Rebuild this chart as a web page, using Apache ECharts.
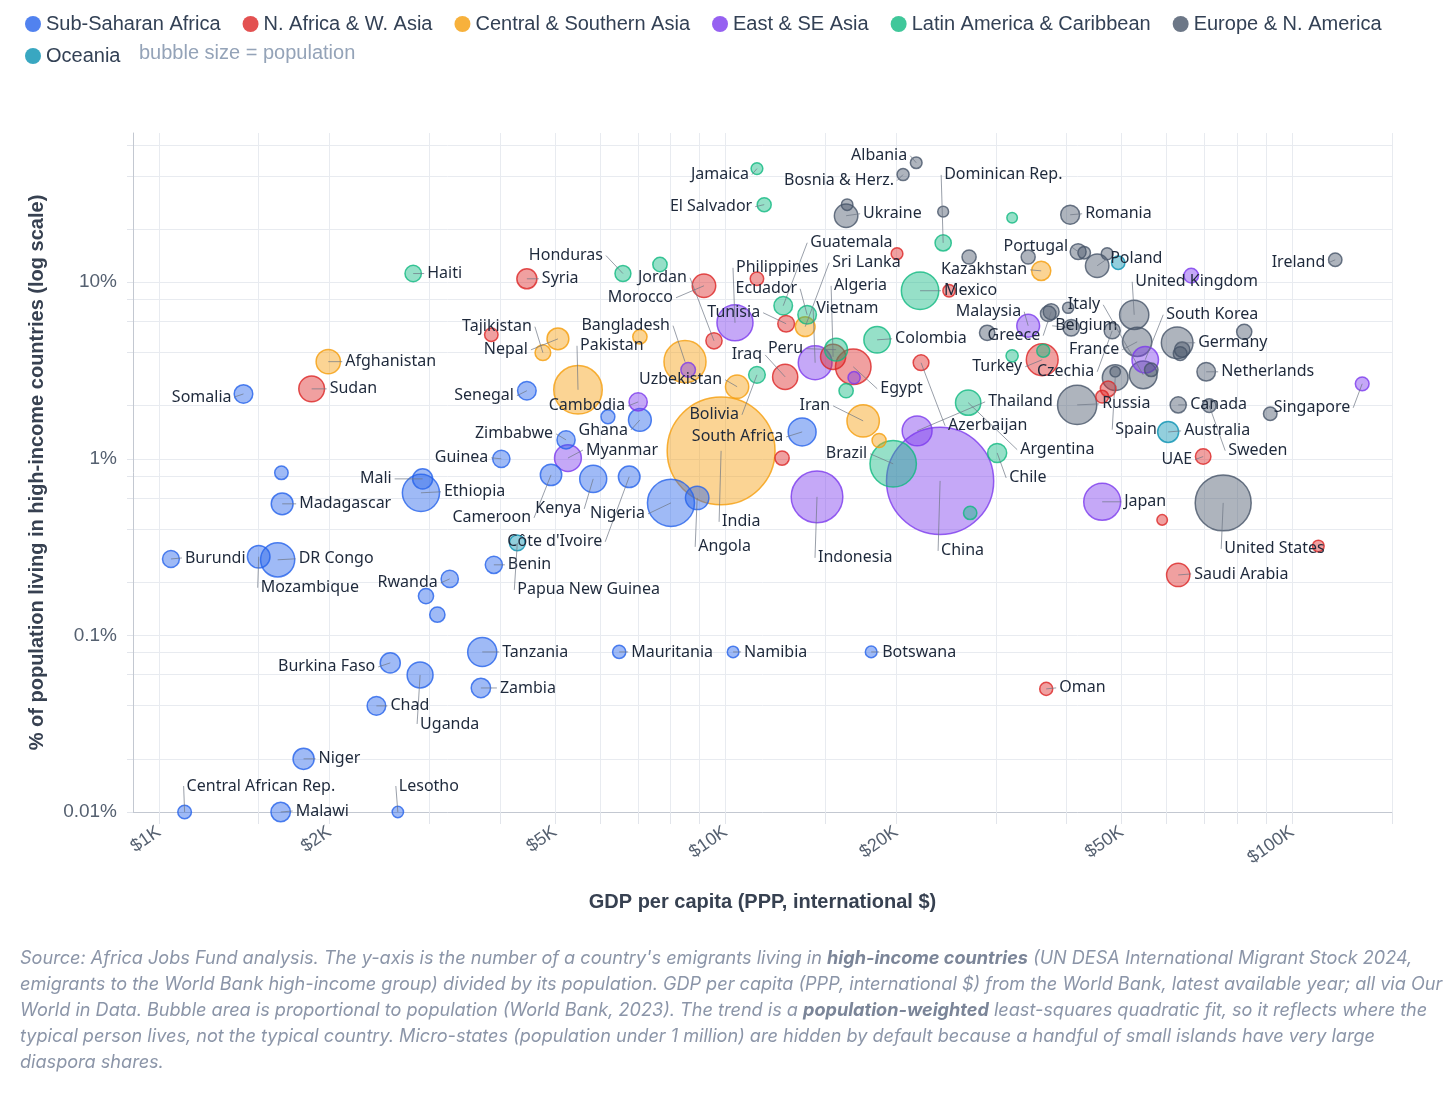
<!DOCTYPE html>
<html>
<head>
<meta charset="utf-8">
<script src="https://cdn.jsdelivr.net/npm/echarts@6/dist/echarts.min.js"></script>
<style>
  body { margin: 0; background: #fff; }
  #chart { position: absolute; left: 0; top: 0; width: 1456px; height: 1096px; }
  #note {
    position: absolute; left: 20px; top: 944px;
    font: italic 18.1px Inter, "Liberation Sans", sans-serif;
    line-height: 26px; color: #8b95a8; white-space: nowrap;
  }
  #note b { color: #7b8598; }
</style>
</head>
<body>
<div id="chart"></div>
<div id="note">Source: Africa Jobs Fund analysis. The y-axis is the number of a country's emigrants living in <b>high-income countries</b> (UN DESA International Migrant Stock 2024,<br>emigrants to the World Bank high-income group) divided by its population. GDP per capita (PPP, international $) from the World Bank, latest available year; all via Our<br>World in Data. Bubble area is proportional to population (World Bank, 2023). The trend is a <b>population-weighted</b> least-squares quadratic fit, so it reflects where the<br>typical person lives, not the typical country. Micro-states (population under 1 million) are hidden by default because a handful of small islands have very large<br>diaspora shares.</div>
<script>
// [country, GDP per capita PPP $, % of population in high-income countries, population (millions)]
const subSaharan = [
  ['Somalia', 1410, 2.33, 18], ['Burundi', 1050, 0.271, 13], ['Mozambique', 1500, 0.279, 33],
  ['DR Congo', 1620, 0.268, 102], ['Madagascar', 1650, 0.556, 30], ['Liberia', 1645, 0.833, 5.4],
  ['Mali', 2920, 0.770, 23], ['Ethiopia', 2900, 0.642, 126], ['Zimbabwe', 5230, 1.28, 16.7],
  ['Ghana', 7060, 1.66, 34], ['Congo', 6200, 1.73, 6.1], ['Senegal', 4460, 2.43, 18],
  ['Guinea', 4020, 1.00, 14], ['Cameroon', 4920, 0.811, 28], ['Kenya', 5840, 0.770, 55],
  ["Côte d'Ivoire", 6760, 0.791, 29], ['Nigeria', 8010, 0.563, 223], ['Angola', 8910, 0.601, 37],
  ['South Africa', 13650, 1.42, 60], ['Benin', 3900, 0.251, 13.7], ['Rwanda', 3260, 0.209, 14],
  ['Sierra Leone', 2960, 0.167, 8.8], ['Togo', 3100, 0.131, 9], ['Tanzania', 3720, 0.0806, 67],
  ['Mauritania', 6490, 0.0806, 4.9], ['Namibia', 10310, 0.0806, 2.6], ['Botswana', 18070, 0.0806, 2.7],
  ['Burkina Faso', 2560, 0.0699, 23], ['Uganda', 2890, 0.0597, 49], ['Zambia', 3700, 0.0504, 20.6],
  ['Chad', 2420, 0.0399, 18], ['Niger', 1800, 0.0200, 27], ['Central African Rep.', 1110, 0.01, 5.7],
  ['Malawi', 1640, 0.01, 21], ['Lesotho', 2640, 0.01, 2.3]
];
const nAfricaWAsia = [
  ['Sudan', 1860, 2.49, 48], ['Syria', 4460, 10.46, 23], ['Palestine', 3860, 5.04, 5.4],
  ['Morocco', 9160, 9.55, 37], ['Jordan', 9540, 4.66, 11.3], ['Lebanon', 11360, 10.46, 5.4],
  ['Tunisia', 12790, 5.82, 12.5], ['Iraq', 12740, 2.91, 45], ['Algeria', 15480, 3.78, 45],
  ['Egypt', 16800, 3.32, 113], ['Libya', 12580, 1.01, 6.9], ['Azerbaijan', 22130, 3.50, 10.1],
  ['Armenia', 20070, 14.5, 2.8], ['Georgia', 24800, 8.95, 3.7], ['Turkey', 36210, 3.64, 85],
  ['Kuwait', 46200, 2.25, 4.3], ['Israel', 47330, 2.49, 9.8], ['UAE', 69640, 1.03, 9.5],
  ['Bahrain', 58950, 0.451, 1.5], ['Qatar', 111200, 0.321, 2.7], ['Saudi Arabia', 62920, 0.220, 36],
  ['Oman', 36800, 0.0498, 4.6]
];
const centralSouthAsia = [
  ['Afghanistan', 1990, 3.55, 41], ['Tajikistan', 4760, 3.99, 10], ['Nepal', 5060, 4.78, 30],
  ['Pakistan', 5490, 2.46, 240], ['Kyrgyzstan', 7060, 4.91, 7], ['Bangladesh', 8480, 3.55, 171],
  ['Uzbekistan', 10480, 2.56, 36], ['India', 9820, 1.11, 1430], ['Sri Lanka', 13820, 5.60, 22],
  ['Iran', 17490, 1.64, 89], ['Turkmenistan', 18660, 1.27, 6.5], ['Kazakhstan', 36060, 11.6, 20]
];
const eastSEAsia = [
  ['Cambodia', 7010, 2.10, 17], ['Myanmar', 5270, 1.01, 54], ['Laos', 8590, 3.19, 7.6],
  ['Philippines', 10390, 5.89, 117], ['Vietnam', 14390, 3.50, 99], ['Mongolia', 16860, 2.88, 3.4],
  ['Indonesia', 14500, 0.609, 278], ['Thailand', 21780, 1.44, 72], ['China', 23910, 0.750, 1410],
  ['Malaysia', 34200, 5.67, 34], ['South Korea', 55030, 3.64, 52], ['Japan', 46200, 0.571, 124],
  ['Hong Kong', 66330, 10.9, 7.5], ['Singapore', 132900, 2.66, 5.9]
];
const latinAmerica = [
  ['Haiti', 2810, 11.2, 11.7], ['Honduras', 6590, 11.2, 10.6], ['Nicaragua', 7660, 12.6, 7],
  ['Jamaica', 11360, 44.0, 2.8], ['El Salvador', 11700, 27.5, 6.4], ['Bolivia', 11360, 2.99, 12.4],
  ['Guatemala', 12640, 7.36, 18], ['Ecuador', 13930, 6.54, 18], ['Peru', 15670, 4.15, 34],
  ['Paraguay', 16320, 2.43, 6.9], ['Colombia', 18510, 4.72, 52], ['Brazil', 19760, 0.937, 216],
  ['Mexico', 22040, 8.95, 128], ['Dominican Rep.', 24210, 16.7, 11.3], ['Argentina', 26800, 2.08, 46],
  ['Costa Rica', 27020, 0.494, 5.2], ['Chile', 30150, 1.08, 19.6], ['Trinidad & Tobago', 32040, 23.2, 1.5],
  ['Uruguay', 32040, 3.83, 3.4], ['Panama', 36360, 4.09, 4.5]
];
const europeNAmerica = [
  ['Ukraine', 16320, 23.8, 37], ['Moldova', 16390, 27.5, 2.5], ['Bosnia & Herz.', 20570, 40.7, 3.2],
  ['Albania', 21700, 47.5, 2.7], ['North Macedonia', 24210, 25.1, 1.8], ['Serbia', 26900, 13.9, 6.6],
  ['Belarus', 28950, 5.17, 9.2], ['Bulgaria', 34200, 13.9, 6.4], ['Hungary', 37100, 6.63, 9.6],
  ['Greece', 37550, 6.81, 10.4], ['Romania', 40560, 24.1, 19], ['Slovenia', 40230, 7.17, 2.1],
  ['Belgium', 40730, 5.52, 11.8], ['Russia', 41730, 2.02, 144], ['Portugal', 41900, 14.9, 10.5],
  ['Croatia', 42940, 14.7, 3.9], ['Poland', 45270, 12.4, 37], ['Lithuania', 47140, 14.5, 2.9],
  ['Czechia', 48120, 5.31, 10.9], ['Spain', 48710, 2.88, 48], ['Estonia', 48710, 3.11, 1.4],
  ['United Kingdom', 52620, 6.54, 68], ['France', 53260, 4.60, 68], ['Italy', 54580, 2.99, 59],
  ['Slovakia', 56390, 3.19, 5.4], ['Germany', 62660, 4.54, 84], ['Denmark', 63430, 3.94, 5.9],
  ['Austria', 63940, 4.15, 9.1], ['Canada', 62920, 2.02, 11], ['Netherlands', 70500, 3.11, 17.9],
  ['Sweden', 71370, 2.00, 5.6], ['United States', 75540, 0.563, 335], ['Switzerland', 82280, 5.24, 8.8],
  ['Norway', 91460, 1.80, 5.5], ['Ireland', 119100, 13.4, 5.3]
];
const oceania = [
  ['Papua New Guinea', 4290, 0.334, 10.3], ['New Zealand', 49310, 12.9, 5.2], ['Australia', 60400, 1.42, 26.6]
];

// axis ticks (raw units)
const xTickLabels = [1000, 2000, 5000, 10000, 20000, 50000, 100000];
const xGridValues = [1000, 1500, 2000, 3000, 4000, 5000, 6000, 7000, 8000, 9000,
  10000, 15000, 20000, 30000, 40000, 50000, 60000, 70000, 80000, 90000, 100000, 150000];
const yTickLabels = [0.01, 0.1, 1, 10];
const yGridValues = [0.01, 0.02, 0.04, 0.06, 0.08, 0.1, 0.2, 0.4, 0.6, 0.8,
  1, 2, 4, 6, 8, 10, 20, 40, 60];

// label placement: offset of label anchor from bubble centre (px), side of text
const labelPos = {
  'Somalia': [-9, 3, 'l'], 'Sudan': [15, 0, 'r'], 'Afghanistan': [14, 0, 'r'], 'Haiti': [11, 0, 'r'],
  'Syria': [12, 0, 'r'], 'Tajikistan': [-8, -26, 'l'], 'Nepal': [-27, 11, 'l'], 'Honduras': [-17, -18, 'l'],
  'Jordan': [-24, -63, 'l'], 'Morocco': [-28, 12, 'l'], 'Bangladesh': [-12, -36, 'l'], 'Pakistan': [-1, -44, 'r'],
  'Cambodia': [-10, 4, 'l'], 'Senegal': [-10, 5, 'l'], 'Zimbabwe': [-10, -6, 'l'], 'Ghana': [-9, 10, 'l'],
  'Myanmar': [15, -8, 'r'], 'Guinea': [-10, -1, 'l'], 'Mali': [-28, 0, 'l'], 'Ethiopia': [20, -1, 'r'],
  'Madagascar': [14, 0, 'r'], 'Burundi': [11, -1, 'r'], 'DR Congo': [18, -1, 'r'], 'Mozambique': [-1, 31, 'r'],
  'Kenya': [-9, 30, 'l'], 'Cameroon': [-17, 43, 'l'], 'Nigeria': [-23, 11, 'l'], "Côte d'Ivoire": [-24, 65, 'l'],
  'Benin': [11, 0, 'r'], 'Papua New Guinea': [-3, 47, 'r'], 'Rwanda': [-9, 4, 'l'], 'Tanzania': [17, 0, 'r'],
  'Mauritania': [9, 0, 'r'], 'Namibia': [8, 0, 'r'], 'Botswana': [8, 0, 'r'], 'Burkina Faso': [-12, 4, 'l'],
  'Zambia': [16, 0, 'r'], 'Chad': [11, 0, 'r'], 'Uganda': [-3, 49, 'r'], 'Niger': [12, 0, 'r'],
  'Central African Rep.': [-1, -26, 'r'], 'Malawi': [12, -1, 'r'], 'Lesotho': [-2, -26, 'r'], 'Oman': [10, -1, 'r'],
  'Jamaica': [-5, 6, 'l'], 'El Salvador': [-9, 2, 'l'], 'Albania': [-6, -7, 'l'], 'Bosnia & Herz.': [-6, 6, 'l'],
  'Ukraine': [14, -2, 'r'], 'Dominican Rep.': [-2, -68, 'r'], 'Romania': [12, -1, 'r'], 'Portugal': [-7, -5, 'l'],
  'Poland': [10, -7, 'r'], 'United Kingdom': [-2, -33, 'r'], 'Ireland': [-7, 3, 'l'], 'Kazakhstan': [-11, -1, 'l'],
  'Mexico': [21, 0, 'r'], 'Malaysia': [-4, -14, 'l'], 'Greece': [-8, 24, 'l'], 'Turkey': [-17, 7, 'l'],
  'Italy': [-40, -70, 'l'], 'Belgium': [-19, -2, 'r'], 'Czechia': [-15, 41, 'l'], 'South Korea': [18, -45, 'r'],
  'Germany': [18, 0, 'r'], 'France': [-15, 8, 'l'], 'Netherlands': [12, 0, 'r'], 'Russia': [22, -1, 'r'],
  'Spain': [-3, 52, 'r'], 'Canada': [9, 0, 'r'], 'Australia': [13, -1, 'r'], 'Sweden': [16, 45, 'r'],
  'Singapore': [-9, 24, 'l'], 'UAE': [-8, 3, 'l'], 'Japan': [19, 0, 'r'], 'United States': [-2, 46, 'r'],
  'Saudi Arabia': [13, -1, 'r'], 'Chile': [9, 25, 'r'], 'Argentina': [49, 47, 'r'], 'Thailand': [68, -29, 'r'],
  'Azerbaijan': [24, 63, 'r'], 'China': [-2, 70, 'r'], 'Brazil': [-23, -10, 'l'], 'Indonesia': [-2, 61, 'r'],
  'India': [-2, 71, 'r'], 'Angola': [-2, 49, 'r'], 'South Africa': [-16, 5, 'l'], 'Bolivia': [-15, 40, 'l'],
  'Uzbekistan': [-12, -7, 'l'], 'Iran': [-30, -15, 'l'], 'Egypt': [24, 22, 'r'], 'Colombia': [15, -1, 'r'],
  'Iraq': [-20, -22, 'l'], 'Peru': [-30, -1, 'l'], 'Tunisia': [-23, -11, 'l'], 'Philippines': [-2, -55, 'r'],
  'Ecuador': [-7, -26, 'l'], 'Guatemala': [24, -63, 'r'], 'Sri Lanka': [24, -64, 'r'], 'Algeria': [-2, -71, 'r'],
  'Vietnam': [-2, -54, 'r']
};

const regions = [
  { name: 'Sub-Saharan Africa', rows: subSaharan, color: '#2563eb', rgb: '37,99,235' },
  { name: 'N. Africa & W. Asia', rows: nAfricaWAsia, color: '#dc2626', rgb: '220,38,38' },
  { name: 'Central & Southern Asia', rows: centralSouthAsia, color: '#f59e0b', rgb: '245,158,11' },
  { name: 'East & SE Asia', rows: eastSEAsia, color: '#7c3aed', rgb: '124,58,237' },
  { name: 'Latin America & Caribbean', rows: latinAmerica, color: '#10b981', rgb: '16,185,129' },
  { name: 'Europe & N. America', rows: europeNAmerica, color: '#475569', rgb: '71,85,105' },
  { name: 'Oceania', rows: oceania, color: '#0891b2', rgb: '8,145,178' }
];

const lg = Math.log10;
const bubbles = [];
const labelRows = [];
regions.forEach(function (reg) {
  reg.rows.forEach(function (r) {
    bubbles.push({
      name: r[0],
      value: [lg(r[1]), lg(r[2]), r[3]],
      itemStyle: { color: 'rgba(' + reg.rgb + ',0.55)', borderColor: reg.color }
    });
    const p = labelPos[r[0]];
    if (p) labelRows.push({ name: r[0], x: lg(r[1]), y: lg(r[2]), dx: p[0], dy: p[1], side: p[2] });
  });
});
// biggest first, so small bubbles stay visible on top
bubbles.sort(function (a, b) { return b.value[2] - a.value[2]; });

const axisFont = '"Liberation Sans", Arial, sans-serif';
const myChart = echarts.init(document.getElementById('chart'));

const legendText = { fontSize: 20, color: '#334155', fontFamily: axisFont };
const option = {
  animation: false,
  grid: { left: 133, right: 64, top: 133, bottom: 284 },
  legend: [{
    left: 20, top: 9, itemGap: 22, itemWidth: 16, itemHeight: 16, icon: 'circle',
    selectedMode: false, textStyle: legendText,
    data: regions.slice(0, 6).map(function (r) { return r.name; })
  }, {
    left: 20, top: 41, itemWidth: 16, itemHeight: 16, icon: 'circle',
    selectedMode: false, textStyle: legendText,
    data: ['Oceania']
  }],
  graphic: [{
    type: 'text', left: 139, top: 43,
    style: { text: 'bubble size = population', fill: '#94a3b8', font: '20px ' + axisFont }
  }],
  xAxis: {
    type: 'value',
    min: lg(900), max: lg(150000),
    name: 'GDP per capita (PPP, international $)',
    nameLocation: 'middle', nameGap: 80,
    nameTextStyle: { fontSize: 20, fontWeight: 'bold', color: '#374151', fontFamily: axisFont },
    axisLine: { show: true, onZero: false, lineStyle: { color: '#c3c8d1' } },
    axisTick: { show: true, length: 12, lineStyle: { color: '#e2e5eb' }, customValues: xGridValues.map(lg) },
    splitLine: { show: true, lineStyle: { color: '#e8ebf0' } },
    axisLabel: {
      customValues: xTickLabels.map(lg), rotate: 35, margin: 18,
      fontSize: 18, color: '#556070', fontFamily: axisFont,
      formatter: function (v) { return '$' + Math.round(Math.pow(10, v) / 1000) + 'K'; }
    }
  },
  yAxis: {
    type: 'value',
    min: lg(0.01), max: lg(70),
    name: '% of population living in high-income countries (log scale)',
    nameLocation: 'middle', nameGap: 86,
    nameTextStyle: { fontSize: 20, fontWeight: 'bold', color: '#374151', fontFamily: axisFont },
    axisLine: { show: true, onZero: false, lineStyle: { color: '#c3c8d1' } },
    axisTick: { show: true, length: 6, lineStyle: { color: '#e2e5eb' }, customValues: yGridValues.map(lg) },
    splitLine: { show: true, lineStyle: { color: '#e8ebf0' } },
    axisLabel: {
      customValues: yTickLabels.map(lg), margin: 16,
      fontSize: 19, color: '#556070', fontFamily: axisFont,
      formatter: function (v) { return parseFloat(Math.pow(10, v).toPrecision(2)) + '%'; }
    }
  },
  series: regions.map(function (r) {
    return { type: 'scatter', name: r.name, data: [], itemStyle: { color: r.color } };
  }).concat([{
    type: 'scatter',
    name: 'countries',
    clip: false,
    silent: true,
    z: 3,
    symbolSize: function (v) { return 7.3 + 2.66 * Math.sqrt(v[2]); },
    itemStyle: { borderWidth: 1.5 },
    data: bubbles
  }, {
    type: 'custom',
    name: 'labels',
    clip: false,
    silent: true,
    z: 6,
    encode: { x: 0, y: 1 },
    data: labelRows.map(function (r) { return [r.x, r.y]; }),
    renderItem: function (params, api) {
      const row = labelRows[params.dataIndex];
      const c = api.coord([api.value(0), api.value(1)]);
      const ax = c[0] + row.dx, ay = c[1] + row.dy;
      const onLeft = row.side === 'l';
      const align = onLeft ? 'right' : 'left';
      return {
        type: 'group',
        children: [{
          type: 'line',
          shape: { x1: c[0], y1: c[1], x2: ax, y2: ay },
          style: { stroke: 'rgba(110,118,132,0.7)', lineWidth: 1 }
        }, {
          type: 'text',
          x: ax + (onLeft ? -3 : 3), y: ay,
          style: {
            text: row.name, fill: '#1e293b', font: '16px "Noto Sans", "Open Sans", sans-serif',
            align: align, verticalAlign: 'middle', textAlign: align, textVerticalAlign: 'middle'
          }
        }]
      };
    }
  }])
};

myChart.setOption(option);
</script>
</body>
</html>
